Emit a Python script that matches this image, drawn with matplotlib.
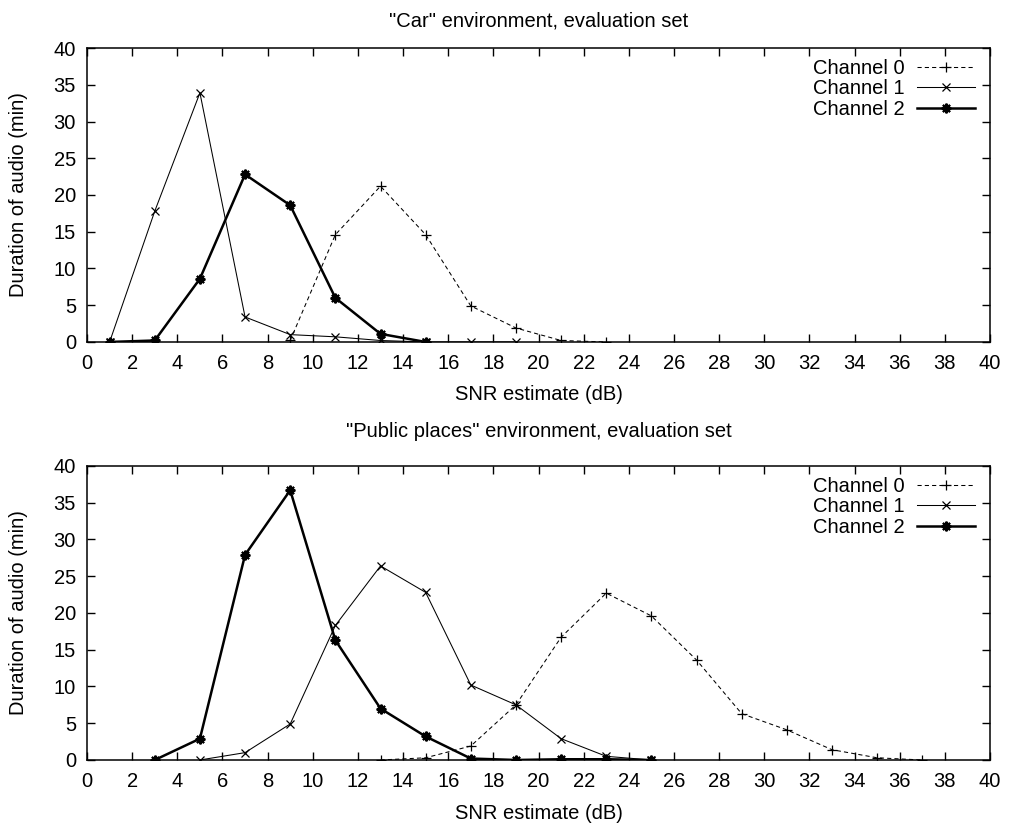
import matplotlib
matplotlib.use("Agg")
import matplotlib.pyplot as plt

plt.rcParams['font.family'] = ['Liberation Sans', 'DejaVu Sans']
plt.rcParams['font.size'] = 14.5

# SNR bins (dB)
car_x0 = [9, 11, 13, 15, 17, 19, 21, 23]
car_ch0 = [0.2, 14.6, 21.2, 14.6, 4.9, 1.9, 0.2, 0.0]
car_x1 = [1, 3, 5, 7, 9, 11, 13, 15, 17, 19]
car_ch1 = [0.0, 17.8, 33.9, 3.4, 1.0, 0.7, 0.2, 0.0, 0.0, 0.0]
car_x2 = [1, 3, 5, 7, 9, 11, 13, 15]
car_ch2 = [0.0, 0.2, 8.6, 22.8, 18.6, 6.0, 1.1, 0.0]

pub_x0 = [13, 15, 17, 19, 21, 23, 25, 27, 29, 31, 33, 35, 37]
pub_ch0 = [0.0, 0.3, 1.9, 7.5, 16.7, 22.7, 19.6, 13.6, 6.3, 4.1, 1.4, 0.3, 0.0]
pub_x1 = [5, 7, 9, 11, 13, 15, 17, 19, 21, 23, 25]
pub_ch1 = [0.0, 1.0, 4.9, 18.3, 26.4, 22.8, 10.2, 7.5, 2.9, 0.5, 0.0]
pub_x2 = [3, 5, 7, 9, 11, 13, 15, 17, 19, 21, 23, 25]
pub_ch2 = [0.0, 2.9, 27.9, 36.7, 16.3, 7.0, 3.2, 0.2, 0.0, 0.1, 0.1, 0.0]

titles = ['"Car" environment, evaluation set',
          '"Public places" environment, evaluation set']
labels = ['Channel 0', 'Channel 1', 'Channel 2']

fig = plt.figure(figsize=(10.18, 8.25), dpi=100)
ax1 = fig.add_axes([0.0855, 0.5855, 0.887, 0.3563])
ax2 = fig.add_axes([0.0855, 0.0788, 0.887, 0.3564])

panels = [
    (ax1, titles[0], 15.5, (car_x0, car_ch0), (car_x1, car_ch1), (car_x2, car_ch2)),
    (ax2, titles[1], 20.5, (pub_x0, pub_ch0), (pub_x1, pub_ch1), (pub_x2, pub_ch2)),
]

star = (8, 2, 0)

for ax, title, tpad, s0, s1, s2 in panels:
    ax.plot(s0[0], s0[1], color='black', ls=(0, (4, 3)), lw=0.75,
            marker='+', ms=7, mew=0.9, label=labels[0])
    ax.plot(s1[0], s1[1], color='black', ls='-', lw=0.75,
            marker='x', ms=6, mew=0.9, label=labels[1])
    ax.plot(s2[0], s2[1], color='black', ls='-', lw=1.8,
            marker=star, ms=7, mew=1.5, label=labels[2])
    ax.set_xlim(0, 40)
    ax.set_ylim(0, 40)
    ax.set_xticks(range(0, 41, 2))
    ax.set_yticks(range(0, 41, 5))
    ax.tick_params(direction='in', length=6, width=1, top=True, right=True,
                   labelsize=14.5)
    ax.tick_params(axis='x', pad=9)
    ax.tick_params(axis='y', pad=8)
    for sp in ax.spines.values():
        sp.set_linewidth(1.1)
    ax.set_title(title, fontsize=14.5, pad=tpad)
    ax.set_xlabel('SNR estimate (dB)', fontsize=14.5)
    ax.set_ylabel('Duration of audio (min)', fontsize=14.5)
    ax.xaxis.set_label_coords(0.5, -0.148)
    ax.yaxis.set_label_coords(-0.065, 0.5)
    ax.legend(loc='upper right', bbox_to_anchor=(0.9834, 0.962),
              frameon=False, markerfirst=False,
              handlelength=2.9, handletextpad=0.6, labelspacing=0.06,
              borderaxespad=0, borderpad=0, fontsize=14.5)

fig.savefig('out.png', dpi=100)
